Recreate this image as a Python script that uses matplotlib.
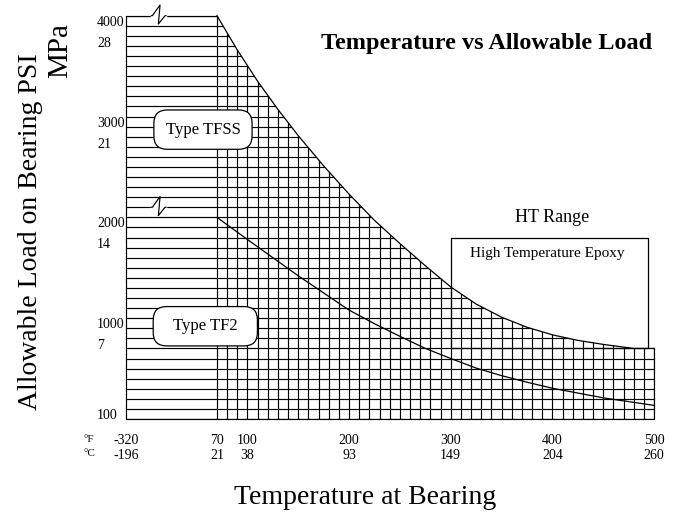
import numpy as np
import matplotlib
matplotlib.use('Agg')
from matplotlib import pyplot as plt
from matplotlib import transforms
from matplotlib.patches import Polygon, Rectangle

plt.rcParams['font.family'] = ['Liberation Serif', 'DejaVu Serif']

# TFSS upper limit curve (deg F, PSI)
tfss_f = [70, 90, 110, 130, 150, 175, 200, 225, 250, 275, 300, 325, 350,
          375, 400, 425, 450, 480, 500]
tfss_psi = [4000, 3660, 3350, 3070, 2810, 2510, 2230, 1970, 1740, 1520,
            1310, 1140, 1010, 910, 835, 780, 740, 700, 700]

# TF2 curve
tf2_f = [70, 100, 125, 150, 175, 200, 225, 250, 275, 300, 325, 350, 375,
         400, 450, 500]
tf2_psi = [2000, 1780, 1600, 1420, 1250, 1080, 945, 820, 700, 600, 505,
           430, 365, 305, 210, 135]

# axis ticks
tick_f = [-320, 70, 100, 200, 300, 400, 500]
tick_c = [-196, 21, 38, 93, 149, 204, 260]
tick_psi = [100, 1000, 2000, 3000, 4000]
tick_mpa = ['', '7', '14', '21', '28']

# HT range box (deg F, PSI)
ht_f = [300, 494]
ht_psi = [700, 1800]

grid_f = np.arange(70, 501, 10)
grid_psi = np.arange(0, 4001, 100)

K = 0.2295  # compression of the cryogenic part of the axis


def fwd(x):
    x = np.asarray(x, dtype=float)
    return np.where(x < 70, 70 + (x - 70) * K, x)


def inv(u):
    u = np.asarray(u, dtype=float)
    return np.where(u < 70, 70 + (u - 70) / K, u)


fig = plt.figure(figsize=(6.83, 5.14), dpi=100)
ax = fig.add_axes([126 / 683, 95 / 514, 528 / 683, 403.3 / 514])
ax.set_xscale('function', functions=(fwd, inv))
ax.set_xlim(tick_f[0], tick_f[-1])
ax.set_ylim(0, tick_psi[-1])
for s in ax.spines.values():
    s.set_visible(False)
ax.set_yticks([])

lw = 0.85
top = tick_psi[-1]

# grid, clipped under the TFSS curve
clip = Polygon([(tick_f[0], 0), (tick_f[0], top)] + list(zip(tfss_f, tfss_psi))
               + [(tick_f[-1], 0)], closed=True, transform=ax.transData,
               fc='none', ec='none')
ax.add_patch(clip)
hl = ax.hlines(grid_psi, tick_f[0], tick_f[-1], colors='black', lw=lw, zorder=2)
vl = ax.vlines(grid_f, 0, top, colors='black', lw=lw, zorder=2)
hl.set_clip_path(clip)
vl.set_clip_path(clip)

# outline
ax.plot([tfss_f[0], tick_f[0], tick_f[0], tick_f[-1], tick_f[-1]],
        [top, top, 0, 0, tfss_psi[-1]], color='black', lw=lw, clip_on=False, zorder=3)
ax.plot(tfss_f, tfss_psi, color='black', lw=0.9, clip_on=False, zorder=3)
ax.plot(tf2_f, tf2_psi, color='black', lw=0.9, zorder=3)

# HT range box
ax.add_patch(Rectangle((ht_f[0], ht_psi[0]), ht_f[1] - ht_f[0], ht_psi[1] - ht_psi[0],
                       fill=False, ec='black', lw=0.9, zorder=1))
ax.text(400, 2000, 'HT Range', ha='center', va='center', fontsize=13)
ax.text(395, 1637, 'High Temperature Epoxy', ha='center', va='center', fontsize=11)


# axis break marks
def break_mark(x, y):
    trans = fig.dpi_scale_trans + transforms.ScaledTranslation(x, y, ax.transData)
    ax.plot([0, 0.127], [0, 0], color='white', lw=2.5, transform=trans,
            clip_on=False, zorder=4)
    ax.plot([-0.01, 0, 0.077, 0.06, 0.127, 0.137], [0, 0, 0.107, -0.083, 0, 0],
            color='black', lw=lw, transform=trans, clip_on=False, zorder=5)


break_mark(-207, 4000)
break_mark(-207, 2100)

# labelled boxes
box = dict(boxstyle='round,pad=0.7,rounding_size=0.8', fc='white', ec='black', lw=0.9)
ax.text(10, 2870, 'Type TFSS', ha='center', va='center', fontsize=12, bbox=box, zorder=6)
ax.text(20, 920, '  Type TF2  ', ha='center', va='center', fontsize=12, bbox=box, zorder=6)

# tick labels
ax.set_xticks(tick_f, labels=[f'{f}\n{c}' for f, c in zip(tick_f, tick_c)])
ax.tick_params(axis='x', length=0, pad=11, labelsize=10)
for lab in ax.get_xticklabels():
    lab.set_linespacing(1.15)
ytrans = transforms.blended_transform_factory(ax.transAxes, ax.transData)
for p, m in zip(tick_psi, tick_mpa):
    ax.text(-0.055, p, f'{p}\n{m}' if m else f'{p}', transform=ytrans,
            ha='left', va='top', fontsize=10, linespacing=1.8)

fig.text(83 / 683, 1 - 439 / 514, '°F', ha='left', va='center', fontsize=8)
fig.text(83 / 683, 1 - 454 / 514, '°C', ha='left', va='center', fontsize=8)

fig.text(487 / 683, 1 - 43 / 514, 'Temperature vs Allowable Load',
         ha='center', va='center', fontsize=17.5, fontweight='bold')
fig.text(31 / 683, 1 - 232 / 514, 'Allowable Load on Bearing PSI',
         rotation=90, ha='center', va='center', fontsize=20)
fig.text(60 / 683, 1 - 51 / 514, 'MPa', rotation=90, ha='center', va='center', fontsize=21)
fig.text(365 / 683, 1 - 497 / 514, 'Temperature at Bearing',
         ha='center', va='center', fontsize=20)

fig.savefig('out.png', dpi=100)
